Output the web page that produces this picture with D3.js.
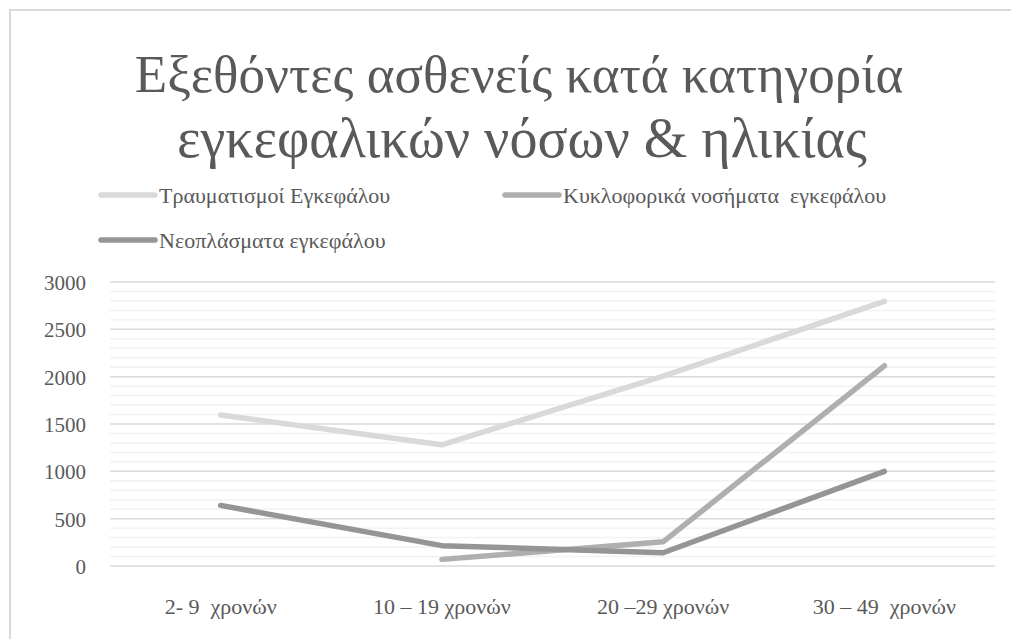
<!DOCTYPE html>
<html>
<head>
<meta charset="utf-8">
<script src="https://cdn.jsdelivr.net/npm/d3@7"></script>
<style>
  body { margin: 0; background: #fff; }
</style>
</head>
<body>
<div class="chart"></div>
<script>
let w = 1011;
let h = 639;
const serif = "'Liberation Serif', 'Times New Roman', Times, 'DejaVu Serif', 'Noto Serif', serif";

const categories = ["2- 9  χρονών", "10 – 19 χρονών", "20 –29 χρονών", "30 – 49  χρονών"];
const seriesNames = ["Τραυματισμοί Εγκεφάλου", "Κυκλοφορικά νοσήματα  εγκεφάλου", "Νεοπλάσματα εγκεφάλου"];
const trauma = [1595, 1280, 2005, 2795];
const circulatory = [null, 70, 255, 2115];
const neoplasms = [640, 215, 140, 1000];
const yTicks = [0, 500, 1000, 1500, 2000, 2500, 3000];
const colors = ["#d9d9d9", "#afafaf", "#959595"];

const svg = d3.select(".chart")
              .append("svg")
              .attr("width", w)
              .attr("height", h)
              .style("font-family", serif)

// chart border
svg.append("rect")
   .attr("x", 10)
   .attr("y", 10)
   .attr("width", w + 20)
   .attr("height", h + 20)
   .attr("fill", "none")
   .attr("stroke", "#d9d9d9")
   .attr("stroke-width", 2)

// title
let titleLines = ["Εξεθόντες ασθενείς κατά κατηγορία", "εγκεφαλικών νόσων & ηλικίας"];
svg.selectAll(".title")
   .data(titleLines)
   .enter()
   .append("text")
   .attr("x", (d, i) => i === 0 ? 519 : 522)
   .attr("y", (d, i) => i === 0 ? 92 : 157)
   .attr("text-anchor", "middle")
   .style("font-family", serif)
   .style("font-size", (d, i) => i === 0 ? "53px" : "56px")
   .style("fill", "#595959")
   .text((d) => d)

const xScale = d3.scaleBand()
                 .domain(categories)
                 .range([110, 995])

const yScale = d3.scaleLinear()
                 .domain([0, 3000])
                 .range([566, 282])

// gridlines: minor every 100, major every 500
const minor = d3.range(100, 3000, 100).filter((d) => d % 500 !== 0);
svg.selectAll(".minor")
   .data(minor)
   .enter()
   .append("line")
   .attr("x1", 110)
   .attr("x2", 995)
   .attr("y1", (d) => yScale(d))
   .attr("y2", (d) => yScale(d))
   .attr("stroke", "#f2f2f2")
   .attr("stroke-width", 1.5)

svg.selectAll(".major")
   .data(yTicks)
   .enter()
   .append("line")
   .attr("x1", 110)
   .attr("x2", 995)
   .attr("y1", (d) => yScale(d))
   .attr("y2", (d) => yScale(d))
   .attr("stroke", "#d9d9d9")
   .attr("stroke-width", 1.5)

const yAxis = d3.axisLeft(yScale)
                .tickValues(yTicks)
                .tickFormat(d3.format("d"))
                .tickSize(0)
                .tickPadding(0)

svg.append("g")
   .attr("transform", "translate(86,0)")
   .call(yAxis)
   .call((g) => g.select(".domain").remove())
   .selectAll("text")
   .style("font-family", serif)
   .style("font-size", "21px")
   .style("fill", "#595959")
   .attr("dy", "0.35em")

const xAxis = d3.axisBottom(xScale)
                .tickSize(0)
                .tickPadding(0)

svg.append("g")
   .attr("transform", "translate(0,606)")
   .call(xAxis)
   .call((g) => g.select(".domain").remove())
   .selectAll("text")
   .style("font-family", serif)
   .style("font-size", "22px")
   .style("fill", "#595959")
   .style("white-space", "pre")
   .attr("dy", "0.35em")

const series = [trauma, circulatory, neoplasms];
const line = d3.line()
               .defined((d) => d !== null)
               .x((d, i) => xScale(categories[i]) + xScale.bandwidth() / 2)
               .y((d) => yScale(d))

svg.selectAll(".series")
   .data(series)
   .enter()
   .append("path")
   .attr("d", (d) => line(d))
   .attr("fill", "none")
   .attr("stroke", (d, i) => colors[i])
   .attr("stroke-width", 5.5)
   .attr("stroke-linecap", "round")
   .attr("stroke-linejoin", "round")

// legend
const legendPos = [[101, 195], [505, 195], [101, 240]];
const legend = svg.selectAll(".legend")
                  .data(seriesNames)
                  .enter()
                  .append("g")
                  .attr("transform", (d, i) => "translate(" + legendPos[i][0] + "," + legendPos[i][1] + ")")

legend.append("line")
      .attr("x1", 0)
      .attr("x2", 54)
      .attr("stroke", (d, i) => colors[i])
      .attr("stroke-width", 5.5)
      .attr("stroke-linecap", "round")

legend.append("text")
      .attr("x", 58)
      .attr("dy", "0.35em")
      .style("font-family", serif)
      .style("font-size", "22px")
      .style("fill", "#595959")
      .style("white-space", "pre")
      .text((d) => d)
</script>
</body>
</html>
